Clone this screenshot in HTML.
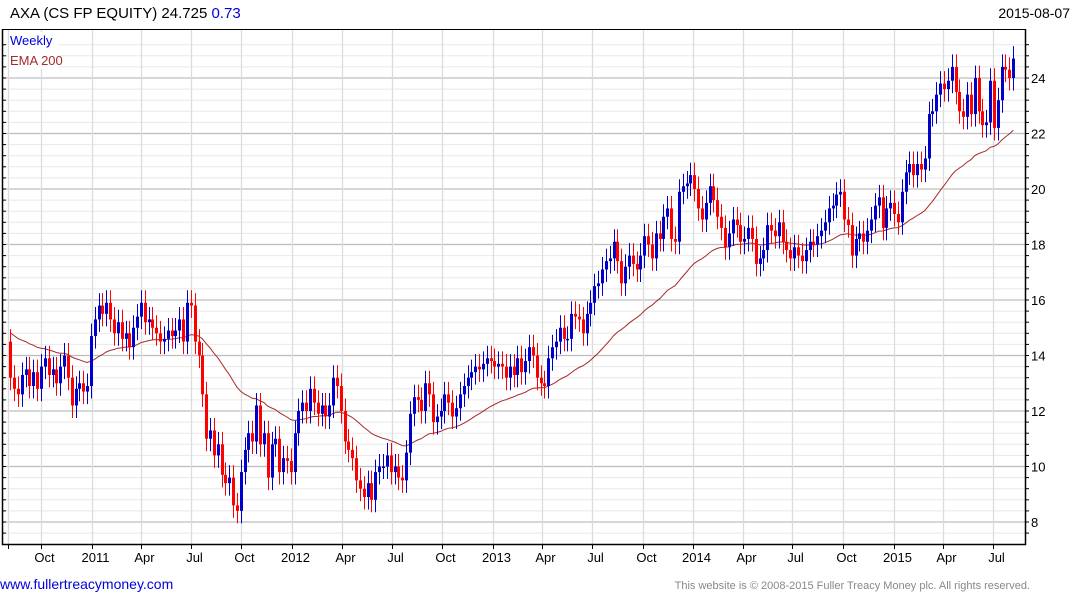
<!DOCTYPE html>
<html><head><meta charset="utf-8"><style>
html,body{margin:0;padding:0;background:#fff;}
svg{display:block;font-family:"Liberation Sans",Arial,sans-serif;}
</style></head><body>
<svg id="chart" width="1075" height="600" viewBox="0 0 1075 600" xmlns="http://www.w3.org/2000/svg">
<text x="10" y="18" font-size="15" fill="#000">AXA (CS FP EQUITY) 24.725 <tspan fill="#0000dd">0.73</tspan></text>
<text x="1070" y="18" font-size="14" fill="#000" text-anchor="end">2015-08-07</text>
<g id="grid"></g>
<g id="ema"></g>
<g id="candles"></g>
<g id="axes"></g>
<rect x="9" y="32" width="50" height="37" fill="#fff"/>
<text x="10" y="45" font-size="13" fill="#0000dd">Weekly</text>
<text x="10" y="65" font-size="13" fill="#a52a2a">EMA 200</text>
<text x="0" y="589" font-size="14" fill="#0000dd">www.fullertreacymoney.com</text>
<text x="1030" y="589" font-size="11" fill="#888" text-anchor="end">This website is © 2008-2015 Fuller Treacy Money plc. All rights reserved.</text>
</svg>
<script>
const firstOpen = 14.5;
const closes = [13.2,12.8,12.6,13.3,13.5,12.9,13.4,12.8,13.6,13.9,13.3,13.5,13.0,13.6,14.0,13.2,12.2,12.8,13.0,12.7,12.9,14.7,15.3,15.8,15.5,15.9,15.3,14.8,15.2,14.6,14.8,14.3,15.0,15.4,15.9,15.2,15.3,15.0,14.8,14.5,14.6,14.9,14.7,14.9,15.3,14.5,15.9,15.8,14.5,14.0,12.6,11.0,11.3,10.4,10.8,9.7,9.4,9.6,8.6,8.4,9.8,10.6,11.2,10.9,12.2,10.8,11.2,9.6,10.8,11.0,9.8,10.3,10.2,9.8,11.2,12.0,12.3,12.0,12.8,12.3,11.9,12.2,11.8,12.2,13.2,12.9,12.0,10.9,10.6,10.3,9.5,9.2,8.9,9.4,8.8,9.8,10.0,10.0,10.4,9.8,10.0,9.6,9.5,10.5,11.9,12.5,12.4,12.0,13.0,12.6,11.6,11.8,12.0,12.6,12.3,11.8,12.1,12.6,12.9,13.2,13.4,13.6,13.5,13.7,13.9,13.8,13.6,13.7,13.6,13.2,13.6,13.3,13.9,13.4,13.8,14.3,14.0,13.2,13.0,12.9,13.9,14.3,14.5,15.0,14.6,14.6,15.5,15.4,15.3,14.8,15.5,15.9,16.5,16.6,17.1,17.4,17.5,18.1,17.4,16.6,17.2,17.6,17.3,17.1,17.6,18.3,18.0,17.5,18.4,18.2,19.0,19.3,18.2,18.1,19.9,20.1,20.2,20.5,20.0,19.3,18.9,19.5,20.1,19.6,19.0,18.6,17.9,18.4,18.9,18.7,18.1,18.2,18.6,18.2,17.3,17.5,17.8,18.7,18.5,18.3,18.8,18.1,17.8,17.5,17.9,17.6,17.4,17.8,18.1,18.0,18.3,18.5,18.8,19.3,19.4,19.8,19.9,18.9,18.7,17.6,18.2,18.4,18.1,18.5,18.9,19.4,19.7,18.6,19.3,19.5,19.1,18.8,19.9,20.6,20.9,20.5,20.9,20.7,21.1,22.7,22.8,23.4,23.8,23.6,23.9,24.4,23.5,22.8,22.6,23.4,22.7,24.0,22.8,22.3,22.4,23.9,22.2,23.2,24.4,24.3,24.0,24.7];
const emaSeed = 14.9;
const emaPeriod = 40;
const yTicks = [8,10,12,14,16,18,20,22,24];
const xTickLabels = ["Oct","2011","Apr","Jul","Oct","2012","Apr","Jul","Oct","2013","Apr","Jul","Oct","2014","Apr","Jul","Oct","2015","Apr","Jul"];
const xTickDates = ["2010-10-01","2011-01-01","2011-04-01","2011-07-01","2011-10-01","2012-01-01","2012-04-01","2012-07-01","2012-10-01","2013-01-01","2013-04-01","2013-07-01","2013-10-01","2014-01-01","2014-04-01","2014-07-01","2014-10-01","2015-01-01","2015-04-01","2015-07-01"];
const lastDate = "2015-08-07";

const NS="http://www.w3.org/2000/svg";
const L=2,R=1025,T=29,B=544;
const ref=Date.UTC(2010,9,1);
function xDate(ms){return 41+(ms-ref)/(365.25*86400000)*200.5;}
function xIdx(i){const end=Date.parse(lastDate);return xDate(end-(closes.length-1-i)*7*86400000);}
function y(p){return 522-(p-8)*27.75;}
function mk(tag,attrs,parent){const e=document.createElementNS(NS,tag);for(const k in attrs)e.setAttribute(k,attrs[k]);parent.appendChild(e);return e;}
const grid=document.getElementById('grid'),axes=document.getElementById('axes'),cg=document.getElementById('candles'),eg=document.getElementById('ema');

for(let v=7.2;v<=25.21;v+=0.4){const yy=y(v);if(yy<T||yy>B)continue;const major=Math.abs(v/2-Math.round(v/2))<0.01;
 const ln=mk('line',{x1:L,x2:R,y1:yy,y2:yy,stroke:major?'#bdbdbd':'#e8e8e8','stroke-width':major?1.3:1},grid);
 
 
 const t1=mk('line',{x1:R,x2:R+4,y1:yy,y2:yy,stroke:'#000'},axes);
 
 
 const t2=mk('line',{x1:L,x2:L+4,y1:yy,y2:yy,stroke:'#000'},axes);
 
 
}
const vx=[Date.UTC(2010,7,1)].concat(xTickDates.map(d=>Date.parse(d)));
vx.forEach((ms,k)=>{const xx=Math.round(xDate(ms))+0.5;
 const ln=mk('line',{x1:xx,x2:xx,y1:T,y2:B,stroke:'#dcdcdc','stroke-width':1.3},grid);
 
 
 const tk=mk('line',{x1:xx,x2:xx,y1:B,y2:B+5,stroke:'#000'},axes);
 
 
 if(k>0){const t=mk('text',{x:xx+3,y:562,'font-size':13,'text-anchor':'middle',fill:'#000'},axes);t.textContent=xTickLabels[k-1];
 
 }
});
yTicks.forEach(v=>{const t=mk('text',{x:1031,y:y(v)+5,'font-size':13,fill:'#000'},axes);t.textContent=v;
 
 });
const fr=mk('path',{d:`M${L+0.5},${T} V${B+0.5} H${R+0.5} V${T} `,fill:'none',stroke:'#000','stroke-width':1.5},axes);


const tp=mk('line',{x1:L,x2:R,y1:T+0.5,y2:T+0.5,stroke:'#000'},axes);



let e=emaSeed,a=2/(emaPeriod+1),pts=[];
closes.forEach((c,i)=>{e=e+a*(c-e);pts.push(xIdx(i).toFixed(1)+','+y(e).toFixed(1));});
const pl=mk('polyline',{points:pts.join(' '),fill:'none',stroke:'#a52a2a','stroke-width':1},eg);



closes.forEach((c,i)=>{const o=i?closes[i-1]:firstOpen;const up=c>=o;const col=up?'#0000cc':'#ff0000';
 const xx=Math.round(xIdx(i))+0.5;const hi=Math.max(o,c)+0.45,lo=Math.min(o,c)-0.45;
 const w=mk('line',{x1:xx,x2:xx,y1:y(hi),y2:y(lo),stroke:col,'stroke-width':1},cg);
 
 
 const top=y(Math.max(o,c)),bot=y(Math.min(o,c));
 const b=mk('rect',{x:xx-1.5,y:top,width:3,height:Math.max(1.5,bot-top),fill:col},cg);
 
 
});
</script>
</body></html>
